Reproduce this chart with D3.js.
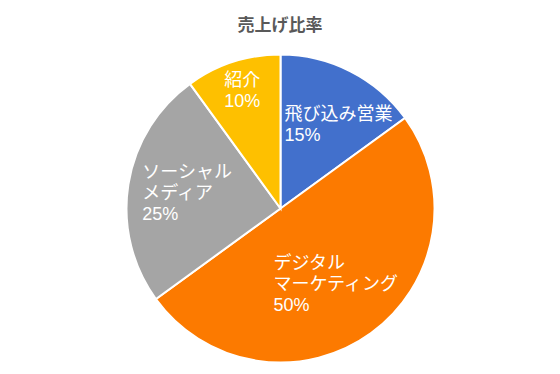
<!DOCTYPE html>
<html>
<head>
<meta charset="utf-8">
<script src="https://cdn.jsdelivr.net/npm/d3@7"></script>
<style>
  body { margin: 0; background: #fff; }
  text { font-family: "Liberation Sans", "Noto Sans CJK JP", sans-serif; }
</style>
</head>
<body>
<div id="chart"></div>
<script>
// data
const categories = ["飛び込み営業", "デジタル\nマーケティング", "ソーシャル\nメディア", "紹介"];
const shares = [15, 50, 25, 10];
const colors = ["#4270CC", "#FC7A00", "#A5A5A5", "#FEC000"];
const chartTitle = "売上げ比率";

const width = 560, height = 374;
const cx = 280.5, cy = 208.5, radius = 154;

const svg = d3.select("#chart").append("svg")
  .attr("width", width)
  .attr("height", height);

svg.append("text")
  .attr("x", width / 2)
  .attr("y", 31)
  .attr("text-anchor", "middle")
  .attr("font-size", 17)
  .attr("font-weight", "bold")
  .attr("fill", "#595959")
  .text(chartTitle);

const pie = d3.pie().sort(null).value(d => d);
const arcs = pie(shares);

const arc = d3.arc().innerRadius(0).outerRadius(radius);
const labelR = 94;

const g = svg.append("g").attr("transform", "translate(" + cx + "," + cy + ")");

g.selectAll("path")
  .data(arcs)
  .join("path")
  .attr("d", arc)
  .attr("fill", (d, i) => colors[i])
  .attr("stroke", "#fff")
  .attr("stroke-width", 2);

// labels: slide out along the middle angle until the block fits with room,
// otherwise take the nearest spot that fits at all (best-fit-ish)
const lineH = 21;
const fitR = radius + 1.5;
arcs.forEach((d, i) => {
  const lines = categories[i].split("\n").concat([shares[i] + "%"]);
  const t = g.append("text")
    .attr("fill", "#fff")
    .attr("font-size", 18);
  const spans = lines.map((l, j) =>
    t.append("tspan").attr("x", 0).attr("y", j * lineH).text(l));
  const lw = spans.map(s => s.node().getComputedTextLength());
  const hw = d3.max(lw) / 2;
  const first = -(lines.length - 1) * lineH / 2 + 5.5;
  const n0 = [Math.cos(d.startAngle), Math.sin(d.startAngle)];
  const n1 = [-Math.cos(d.endAngle), -Math.sin(d.endAngle)];
  const m = (d.startAngle + d.endAngle) / 2;
  const dir = [Math.sin(m), -Math.cos(m)];

  function fits(x, y, pad) {
    for (let j = 0; j < lines.length; j++) {
      const b = y + first + j * lineH;
      const x0 = x - hw, x1 = x0 + lw[j];
      for (const [px, py] of [[x0, b - 14], [x1, b - 14], [x0, b + 2], [x1, b + 2]]) {
        if (px * px + py * py > fitR * fitR) return false;
        if (px * n0[0] + py * n0[1] < pad) return false;
        if (px * n1[0] + py * n1[1] < pad) return false;
      }
    }
    return true;
  }

  const target = [labelR * dir[0], labelR * dir[1]];
  let best = null;
  for (let r = labelR; r <= radius && !best; r += 0.5) {
    if (fits(r * dir[0], r * dir[1], 13)) best = [r * dir[0], r * dir[1]];
  }
  if (!best) {
    let bestD = Infinity;
    best = target;
    for (let x = -radius; x <= radius; x += 0.5) {
      for (let y = -radius; y <= radius; y += 0.5) {
        const dd = (x - target[0]) ** 2 + (y - target[1]) ** 2;
        if (dd >= bestD) continue;
        if (fits(x, y, 4)) { best = [x, y]; bestD = dd; }
      }
    }
  }
  t.attr("transform", "translate(" + (best[0] - hw) + "," + (best[1] + first) + ")");
});
</script>
</body>
</html>
